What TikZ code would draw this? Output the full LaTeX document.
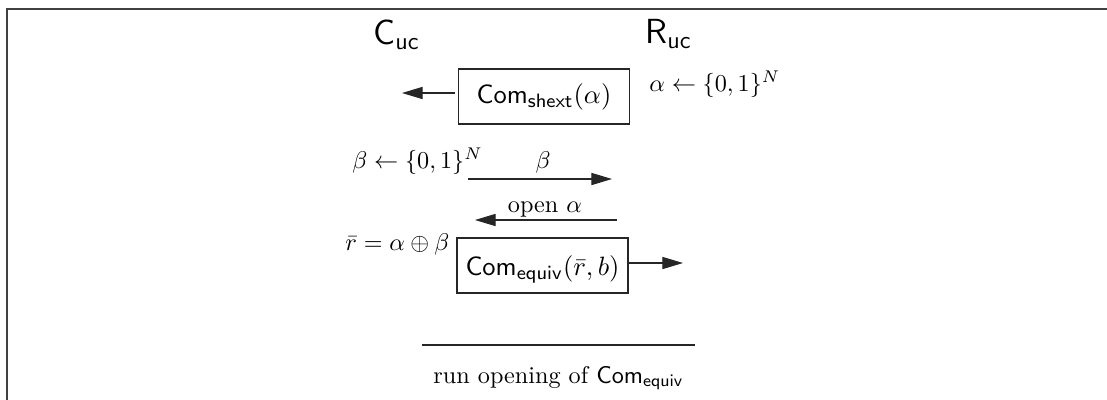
\documentclass[tikz,border=0pt]{standalone}
\usetikzlibrary{arrows.meta}
\begin{document}
\begin{tikzpicture}[x=0.4132pt,y=-0.4132pt,
  lbl/.style={inner sep=0pt,anchor=base west},
  party/.style={inner sep=0pt,anchor=base west,font=\Large\sffamily},
  cbox/.style={draw=black!85,line width=0.55pt,inner sep=0pt,minimum width=70.7pt,minimum height=22.7pt,font=\fontsize{11}{13}\selectfont},
  msg/.style={draw=black!85,line width=0.45pt,-{Triangle[length=8.5pt,width=5pt]}},
  rule/.style={draw=black!85,line width=0.45pt}]
\useasboundingbox (0,0) rectangle (1107,399);
% frame
\coordinate (fr1) at (1120,9);
\coordinate (fr2) at (7,9);
\coordinate (fr3) at (7,410);
\draw[black!75,line width=0.7pt] (fr1) -- (fr2) -- (fr3);
% parties
\node[party] (C) at (373,44) {C$_{\mathsf{uc}}$};
\node[party] (R) at (645,43) {R$_{\mathsf{uc}}$};
% commit 1
\node[cbox] (box1) at (544,96.5) {$\mathsf{Com}_{\mathsf{shext}}(\alpha)$};
\node[lbl] (alpha) at (649,91) {$\alpha \leftarrow \{0,1\}^N$};
\coordinate (a1s) at (455,93);
\coordinate (a1e) at (402,93);
\draw[msg] (a1s) -- (a1e);
% beta
\node[lbl] (beta) at (352,168) {$\beta \leftarrow \{0,1\}^N$};
\node[inner sep=0pt,anchor=base] (bl) at (543,168) {$\beta$};
\coordinate (b1s) at (468,179);
\coordinate (b1e) at (612,179);
\draw[msg] (b1s) -- (b1e);
% open alpha
\node[inner sep=0pt,anchor=base] (ol) at (545,212) {open $\alpha$};
\coordinate (o1s) at (617,220);
\coordinate (o1e) at (475,220);
\draw[msg] (o1s) -- (o1e);
% rbar
\node[lbl] (rbar) at (345,250) {$\bar r = \alpha \oplus \beta$};
\node[cbox,text height=11.1pt,text depth=2.75pt] (box2) at (542.5,265.5) {$\mathsf{Com}_{\mathsf{equiv}}(\bar r, b)$};
\coordinate (e1e) at (683,263);
\draw[msg] (box2.east |- e1e) -- (e1e);
% rule and opening
\coordinate (l1) at (422,345);
\coordinate (l2) at (695,345);
\draw[rule] (l1) -- (l2);
\node[lbl] (run) at (433,383) {run opening of $\mathsf{Com}_{\mathsf{equiv}}$};
\end{tikzpicture}
\end{document}
